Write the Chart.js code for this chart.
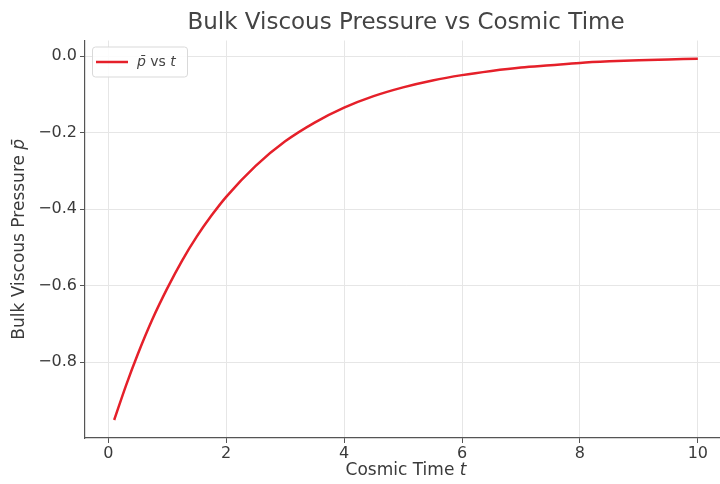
<!DOCTYPE html>
<html>
<head>
<meta charset="utf-8">
<script src="https://cdn.jsdelivr.net/npm/chart.js@4.4.1/dist/chart.umd.min.js"></script>
<style>
html,body{margin:0;padding:0;background:#fff;overflow:hidden;}
#wrap{width:727px;height:484px;position:relative;}
</style>
</head>
<body>
<div id="wrap"><canvas id="c" width="727" height="484"></canvas></div>
<script>
const titleText = "Bulk Viscous Pressure vs Cosmic Time";
const xLabel = ["Cosmic Time ", "t"];
const yLabel = ["Bulk Viscous Pressure ", "p\u0304"];
const seriesLabel = ["p\u0304", " vs ", "t"];
const tValues = [0.1, 0.3, 0.5, 0.75, 1.0, 1.25, 1.5, 1.75, 2.0, 2.5, 3.0, 3.5, 4.0, 4.5, 5.0, 5.5, 6.0, 6.5, 7.0, 7.5, 8.0, 8.5, 9.0, 9.5, 10.0];
const pValues = [-0.951, -0.861, -0.779, -0.687, -0.607, -0.535, -0.472, -0.417, -0.368, -0.287, -0.223, -0.174, -0.135, -0.105, -0.082, -0.064, -0.050, -0.039, -0.030, -0.024, -0.018, -0.014, -0.011, -0.009, -0.007];
const xTicks = [0, 2, 4, 6, 8, 10];
const yTicks = [0.0, -0.2, -0.4, -0.6, -0.8];

const FONT = "'DejaVu Sans', sans-serif";
const TXT = '#3a3a3a';

const drawPlugin = {
  id: 'extras',
  afterDraw(chart) {
    const ctx = chart.ctx, a = chart.chartArea;
    ctx.save();
    // title
    ctx.fillStyle = '#444';
    ctx.font = "23px " + FONT;
    ctx.textAlign = 'center';
    ctx.textBaseline = 'middle';
    ctx.fillText(titleText, (a.left + a.right) / 2, 23);
    // x label
    ctx.fillStyle = TXT;
    ctx.font = "17px " + FONT;
    const w1 = ctx.measureText(xLabel[0]).width;
    ctx.font = "italic 17px " + FONT;
    const w2 = ctx.measureText(xLabel[1]).width;
    let x0 = (a.left + a.right) / 2 - (w1 + w2) / 2;
    ctx.textAlign = 'left';
    ctx.font = "17px " + FONT;
    ctx.fillText(xLabel[0], x0, 471);
    ctx.font = "italic 17px " + FONT;
    ctx.fillText(xLabel[1], x0 + w1, 471);
    // y label
    ctx.save();
    ctx.translate(20, (a.top + a.bottom) / 2);
    ctx.rotate(-Math.PI / 2);
    ctx.font = "17px " + FONT;
    const v1 = ctx.measureText(yLabel[0]).width;
    ctx.font = "italic 17px " + FONT;
    const v2 = ctx.measureText(yLabel[1]).width;
    let y0 = -(v1 + v2) / 2;
    ctx.font = "17px " + FONT;
    ctx.fillText(yLabel[0], y0, 0);
    ctx.font = "italic 17px " + FONT;
    ctx.fillText(yLabel[1], y0 + v1, 0);
    ctx.restore();
    // legend
    const lx = a.left + 7, ly = a.top + 6, lw = 95, lh = 30;
    ctx.fillStyle = 'rgba(255,255,255,0.85)';
    ctx.strokeStyle = '#d9d9d9';
    ctx.lineWidth = 1;
    ctx.beginPath();
    if (ctx.roundRect) ctx.roundRect(lx + 0.5, ly + 0.5, lw, lh, 3); else ctx.rect(lx + 0.5, ly + 0.5, lw, lh);
    ctx.fill(); ctx.stroke();
    ctx.strokeStyle = '#e5202a';
    ctx.lineWidth = 2.5;
    ctx.beginPath();
    ctx.moveTo(lx + 4, ly + 15.5); ctx.lineTo(lx + 36, ly + 15.5);
    ctx.stroke();
    ctx.fillStyle = '#444';
    ctx.textBaseline = 'middle';
    let tx = lx + 45;
    ctx.font = "italic 14px " + FONT;
    ctx.fillText(seriesLabel[0], tx, ly + 16); tx += ctx.measureText(seriesLabel[0]).width;
    ctx.font = "14px " + FONT;
    ctx.fillText(seriesLabel[1], tx, ly + 16); tx += ctx.measureText(seriesLabel[1]).width;
    ctx.font = "italic 14px " + FONT;
    ctx.fillText(seriesLabel[2], tx, ly + 16);
    ctx.restore();
  }
};

new Chart(document.getElementById('c'), {
  type: 'line',
  data: {
    datasets: [{
      label: seriesLabel.join(''),
      data: tValues.map((t, i) => ({x: t, y: pValues[i]})),
      borderColor: '#e5202a',
      borderWidth: 2.5,
      pointRadius: 0,
      fill: false,
      cubicInterpolationMode: 'monotone'
    }]
  },
  options: {
    responsive: false,
    animation: false,
    layout: {padding: {left: 0, right: 0, top: 40.5, bottom: 0}},
    plugins: {legend: {display: false}, title: {display: false}, tooltip: {enabled: false}},
    scales: {
      x: {
        type: 'linear',
        min: -0.395, max: 10.495,
        afterFit(s) { s.height = 46; },
        afterBuildTicks(s) { s.ticks = xTicks.map(v => ({value: v})); },
        ticks: {font: {family: FONT, size: 16}, color: TXT, padding: 1, maxRotation: 0, autoSkip: false, includeBounds: false},
        grid: {color: '#e6e6e6', lineWidth: 1, tickLength: 5, tickColor: '#555'},
        border: {color: '#555', width: 1.2}
      },
      y: {
        type: 'linear',
        min: -0.998, max: 0.0405,
        afterFit(s) { s.width = 85; },
        afterBuildTicks(s) { s.ticks = yTicks.map(v => ({value: v})); },
        ticks: {font: {family: FONT, size: 16}, color: TXT, padding: 3, autoSkip: false, includeBounds: false,
          callback: v => (v === 0 ? '0.0' : '\u2212' + Math.abs(v).toFixed(1))},
        grid: {color: '#e6e6e6', lineWidth: 1, tickLength: 5, tickColor: '#555'},
        border: {color: '#555', width: 1.2}
      }
    }
  },
  plugins: [drawPlugin]
});
</script>
</body>
</html>
